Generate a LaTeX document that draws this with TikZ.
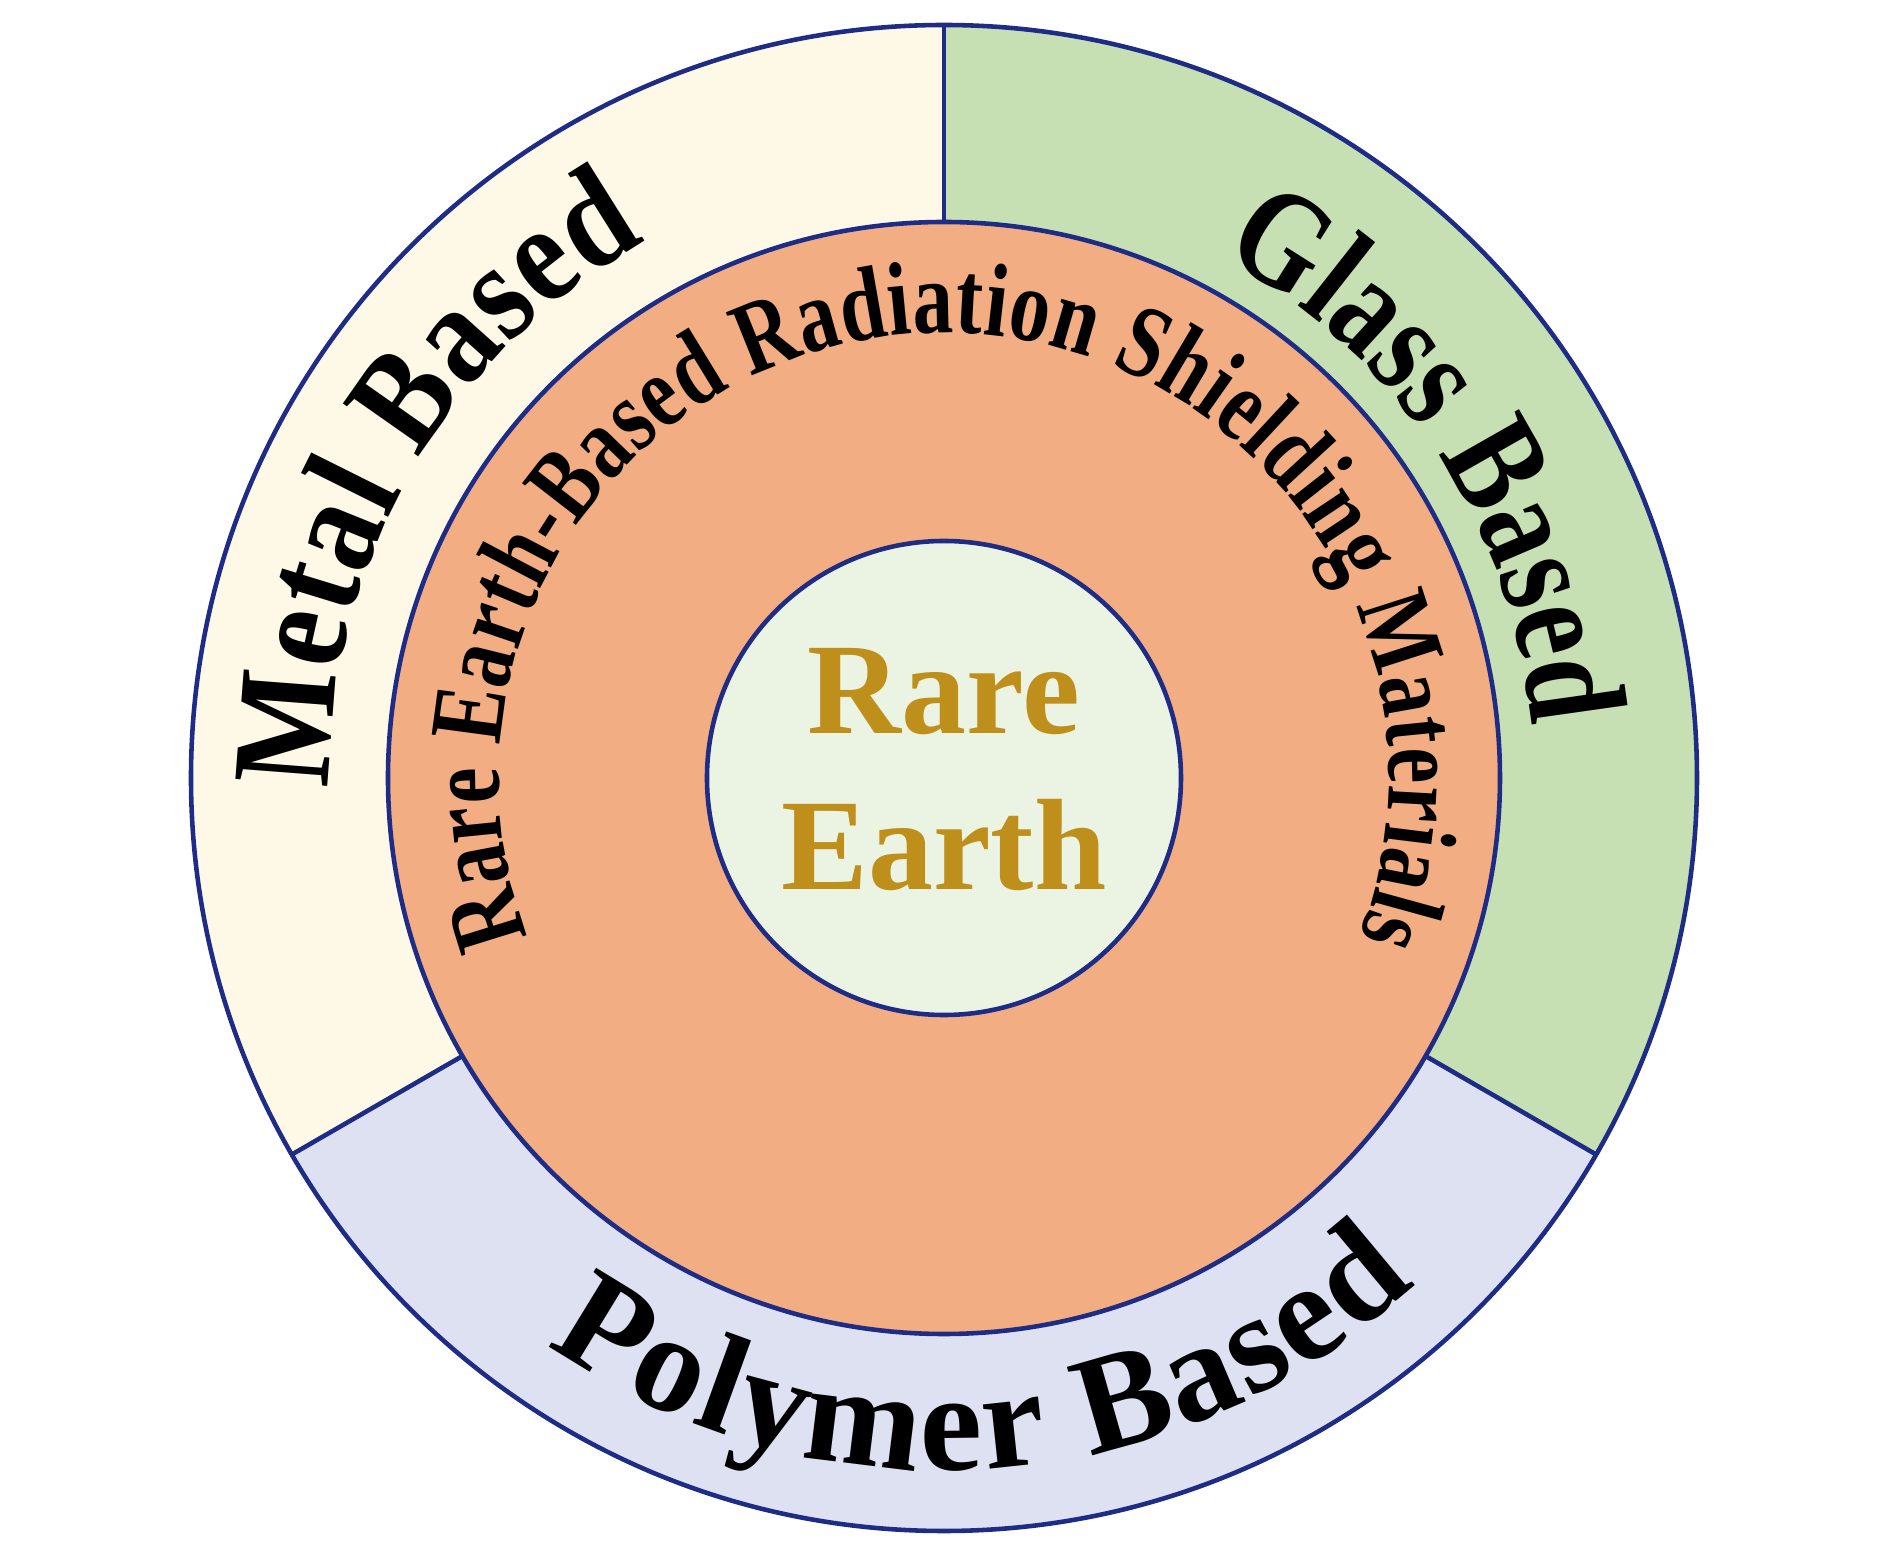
\documentclass[tikz,border=0pt]{standalone}
\usepackage{fontspec}
\setmainfont{Liberation Serif}
\newfontfamily\midfont[FakeStretch=0.78]{Liberation Serif}
\newfontfamily\metalfont[FakeStretch=0.87]{Liberation Serif}
\newfontfamily\glassfont[FakeStretch=0.81]{Liberation Serif}
\newfontfamily\polyfont[FakeStretch=1.0]{Liberation Serif}
\usepackage{tikz}
\usetikzlibrary{decorations.text}

\definecolor{metalfill}{HTML}{FEF9E7}
\definecolor{glassfill}{HTML}{C6E0B4}
\definecolor{polyfill}{HTML}{DDE1F2}
\definecolor{midfill}{HTML}{F2AE82}
\definecolor{innerfill}{HTML}{EBF4E3}
\definecolor{edgeblue}{HTML}{1F2C86}
\definecolor{goldtext}{HTML}{BF8F1C}

\begin{document}
\begin{tikzpicture}

    \tikzset
    {
        ring/.style={draw=edgeblue, line width=1.3pt},
        coretext/.style={text=goldtext, anchor=base, font=\bfseries\fontsize{37}{44}\selectfont}
    }

    \pgfmathsetmacro{\outerr}{7.53}
    \pgfmathsetmacro{\midr}{5.56}
    \pgfmathsetmacro{\innerr}{2.37}

    \useasboundingbox (-9.44,-7.81) rectangle (9.46,7.78);

    \fill[metalfill] (0,0) -- (90:\outerr) arc[start angle=90, end angle=210, radius=\outerr] -- cycle;
    \fill[polyfill] (0,0) -- (210:\outerr) arc[start angle=210, end angle=330, radius=\outerr] -- cycle;
    \fill[glassfill] (0,0) -- (330:\outerr) arc[start angle=330, end angle=450, radius=\outerr] -- cycle;
    \draw[ring] (0,0) circle[radius=\outerr];
    \foreach \a in {90,210,330}
        \draw[ring] (\a:\midr) -- (\a:\outerr);
    \draw[ring, fill=midfill] (0,0) circle[radius=\midr];
    \draw[ring, fill=innerfill] (0,0) circle[radius=\innerr];

    \node[coretext] (rare) at (0,0.44) {Rare};
    \node[coretext] (earth) at (0,-1.12) {Earth};

    \path[decorate, decoration={text along path, text align=fit to path,
        text={|\midfont\bfseries\fontsize{29.6}{30}\selectfont|Rare Earth-Based Radiation Shielding Materials}}]
        (201:4.45) arc[start angle=201, end angle=-21, radius=4.45];
    \path[decorate, decoration={text along path, text align=fit to path,
        text={|\metalfont\bfseries\fontsize{40}{40}\selectfont|Metal Based}}]
        (181:6.14) arc[start angle=181, end angle=119, radius=6.14];
    \path[decorate, decoration={text along path, text align=fit to path,
        text={|\glassfont\bfseries\fontsize{40}{40}\selectfont|Glass Based}}]
        (62:5.9) arc[start angle=62, end angle=5, radius=5.9];
    \path[decorate, decoration={text along path, text align=fit to path,
        text={|\polyfont\bfseries\fontsize{40}{40}\selectfont|Polymer Based}}]
        (235:6.92) arc[start angle=235, end angle=313, radius=6.92];

\end{tikzpicture}
\end{document}
